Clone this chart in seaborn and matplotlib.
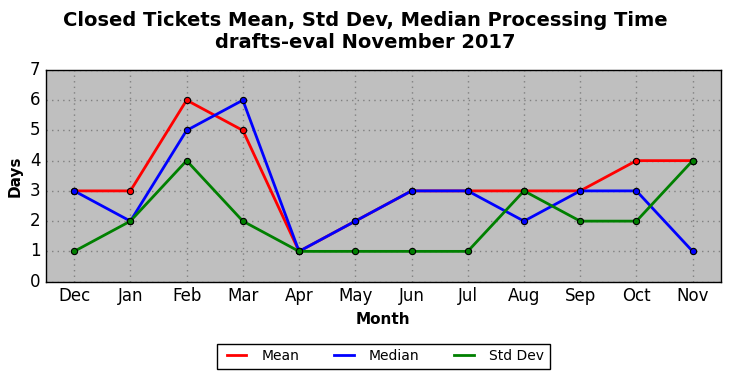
import pandas as pd
import seaborn as sns
import matplotlib
matplotlib.use('Agg')
import matplotlib.pyplot as plt

months = ['Dec', 'Jan', 'Feb', 'Mar', 'Apr', 'May', 'Jun', 'Jul', 'Aug', 'Sep', 'Oct', 'Nov']
mean_days = [3, 3, 6, 5, 1, 2, 3, 3, 3, 3, 4, 4]
median_days = [3, 2, 5, 6, 1, 2, 3, 3, 2, 3, 3, 1]
std_days = [1, 2, 4, 2, 1, 1, 1, 1, 3, 2, 2, 4]

series = [('Mean', mean_days, 'red'), ('Median', median_days, 'blue'), ('Std Dev', std_days, 'green')]

plt.style.use('classic')
fig = plt.figure(figsize=(7.31, 3.78), dpi=100)
fig.patch.set_facecolor('white')
ax = fig.add_axes([0.063, 0.255, 0.923, 0.56])
ax.set_facecolor('#bfbfbf')

x = list(range(len(months)))
for name, vals, color in series:
    df = pd.DataFrame({'x': x, 'y': vals})
    sns.lineplot(data=df, x='x', y='y', ax=ax, color=color, linewidth=2, label=name)
    ax.plot(x, vals, linestyle='none', marker='o', markersize=4.5,
            markerfacecolor=color, markeredgecolor='black', markeredgewidth=0.8)

ax.set_xlim(-0.5, 11.5)
ax.set_ylim(0, 7)
ax.set_xticks(x)
ax.set_xticklabels(months)
ax.tick_params(labelsize=12, length=0)
ax.grid(True, color='#808080', linestyle=(0, (1, 3)), linewidth=1)
ax.set_axisbelow(True)
ax.set_xlabel('Month', fontsize=11, fontweight='bold')
ax.set_ylabel('Days', fontsize=11, fontweight='bold')
fig.suptitle('Closed Tickets Mean, Std Dev, Median Processing Time\ndrafts-eval November 2017',
             fontsize=14, fontweight='bold', y=0.972)

leg = ax.legend(loc='upper center', bbox_to_anchor=(0.5, -0.26), ncol=3, fontsize=10,
                frameon=True, fancybox=False, handlelength=2.0, columnspacing=2.2)
leg.get_frame().set_edgecolor('black')

fig.savefig('out.png', dpi=100, facecolor='white')
